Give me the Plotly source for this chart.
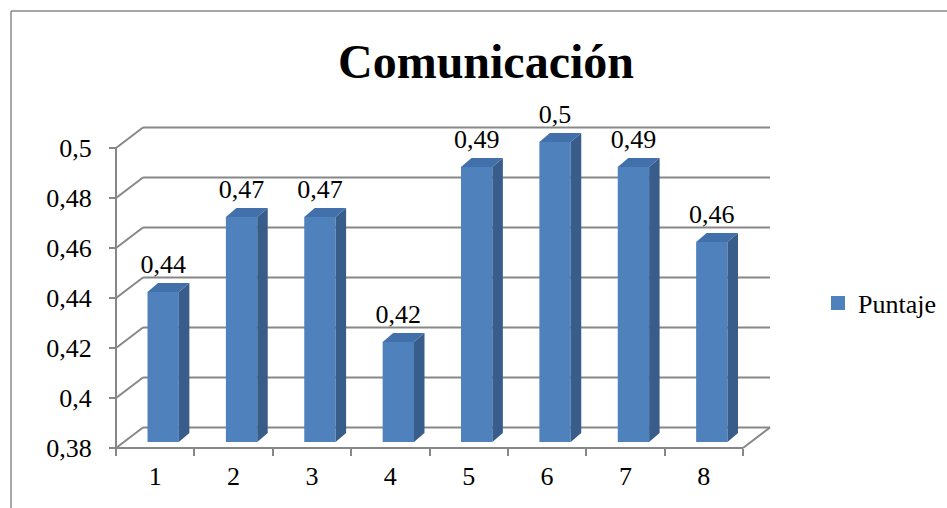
import plotly.graph_objects as go

# ---------------- data ----------------
categories = [1, 2, 3, 4, 5, 6, 7, 8]
category_labels = ["1", "2", "3", "4", "5", "6", "7", "8"]
puntaje = [0.44, 0.47, 0.47, 0.42, 0.49, 0.50, 0.49, 0.46]
y_ticks = [0.38, 0.40, 0.42, 0.44, 0.46, 0.48, 0.50]
y_tick_labels = ["0,38", "0,4", "0,42", "0,44", "0,46", "0,48", "0,5"]
series_name = "Puntaje"
title_text = "Comunicación"

# ---------------- geometry (pixel scales of the pseudo-3D look) ----------------
W, H = 947, 508
PX = 627 / 8          # px per category unit
PY = 300 / 0.12       # px per value unit
Y0 = 0.38
L, R, T, B = 113, 772, 95, 451      # plot area in px
FRONT_X, FRONT_Y = 116, 448         # pixel of (0.5, 0.38)

xr = [0.5 - (FRONT_X - L) / PX, 0.5 + (R - FRONT_X) / PX]
yr = [Y0 - (B - FRONT_Y) / PY, Y0 + (FRONT_Y - T) / PY]

BX, BY = 27 / PX, 20.5 / PY     # back wall offset
FX, FY = 8 / PX, 6 / PY         # bar plane offset
DX, DY = 10.5 / PX, 9 / PY      # bar depth
HW = 0.2                        # half bar width

FONT = "Liberation Serif"
GRID = "#878787"
FRONT_C = "#4F81BD"
SIDE_C = "#385D8A"
TOP_C = "#4270AA"

fig = go.Figure()

# main bars (front faces)
fig.add_trace(go.Bar(
    x=[c + FX for c in categories],
    y=[v - Y0 for v in puntaje],
    base=Y0 + FY,
    width=2 * HW,
    marker=dict(color=FRONT_C, line=dict(width=0)),
    name=series_name,
    showlegend=False,
    hoverinfo="skip",
))

# legend entry (square swatch)
fig.add_trace(go.Scatter(
    x=[None], y=[None], mode="markers", name=series_name,
    marker=dict(symbol="square", size=14, color=FRONT_C),
    showlegend=True, hoverinfo="skip"))

# side & top faces
for c, v in zip(categories, puntaje):
    xl = c + FX - HW
    xrt = c + FX + HW
    yb = Y0 + FY
    yt = v + FY
    fig.add_trace(go.Scatter(
        x=[xrt, xrt, xrt + DX, xrt + DX, xrt],
        y=[yb, yt, yt + DY, yb + DY, yb],
        fill="toself", fillcolor=SIDE_C, mode="lines",
        line=dict(width=0, color=SIDE_C), showlegend=False, hoverinfo="skip"))
    fig.add_trace(go.Scatter(
        x=[xl, xrt, xrt + DX, xl + DX, xl],
        y=[yt, yt, yt + DY, yt + DY, yt],
        fill="toself", fillcolor=TOP_C, mode="lines",
        line=dict(width=0, color=TOP_C), showlegend=False, hoverinfo="skip"))

# data labels
fig.add_trace(go.Scatter(
    x=[c + FX for c in categories],
    y=[v + FY + 26 / PY for v in puntaje],
    text=[str(v).replace(".", ",") for v in puntaje],
    mode="text", textposition="middle center",
    textfont=dict(family=FONT, size=26, color="black"),
    showlegend=False, hoverinfo="skip", cliponaxis=False))

# invisible trace for the boundary-tick axis
fig.add_trace(go.Scatter(x=[1], y=[0.4], xaxis="x2", yaxis="y", mode="markers",
                         marker=dict(opacity=0), showlegend=False, hoverinfo="skip"))

shapes = []
def seg(x0, y0, x1, y1):
    shapes.append(dict(type="line", xref="x", yref="y", x0=x0, y0=y0, x1=x1, y1=y1,
                       line=dict(color=GRID, width=2), layer="below"))

xmax = categories[-1] + 0.5
# front vertical axis and floor
seg(0.5, Y0, 0.5, y_ticks[-1])
seg(0.5, Y0, xmax, Y0)
seg(xmax, Y0, xmax + BX, Y0 + BY)
for t in y_ticks:
    seg(0.5, t, 0.5 + BX, t + BY)
    seg(0.5 + BX, t + BY, xmax + BX, t + BY)

# outer chart border (left and top)
px = lambda p: (p - L) / (R - L)
py = lambda p: (B - p) / (B - T)
for x0, y0, x1, y1 in [(11, 11, 11, 530), (11, 11, 970, 11)]:
    shapes.append(dict(type="line", xref="paper", yref="paper",
                       x0=px(x0), y0=py(y0), x1=px(x1), y1=py(y1),
                       line=dict(color="#8a8a8a", width=1.5)))

fig.update_layout(
    width=W, height=H,
    margin=dict(l=L, r=W - R, t=T, b=H - B, pad=0),
    paper_bgcolor="white", plot_bgcolor="white",
    font=dict(family=FONT, size=26, color="black"),
    title=dict(text="<b>" + title_text + "</b>", x=486 / W, xref="container", xanchor="center",
               y=1 - 61 / H, yref="container", yanchor="middle",
               font=dict(family=FONT, size=48, color="black")),
    showlegend=True,
    legend=dict(x=818 / W, xref="container", xanchor="left",
                y=1 - 303 / H, yref="container", yanchor="middle",
                font=dict(family=FONT, size=26, color="black"),
                bgcolor="rgba(0,0,0,0)", itemclick=False, itemsizing="trace"),
    xaxis=dict(range=xr, tickvals=categories, ticktext=category_labels, ticks="",
               showgrid=False, zeroline=False, showline=False,
               anchor="free", position=(B - FRONT_Y) / (B - T),
               tickfont=dict(family=FONT, size=26, color="black"), ticklabelstandoff=10),
    xaxis2=dict(range=xr, overlaying="x", tickvals=[c - 0.5 for c in categories] + [xmax],
                ticks="outside", ticklen=7, tickwidth=2, tickcolor=GRID,
                showticklabels=False, showgrid=False, zeroline=False, showline=False,
                anchor="free", position=(B - FRONT_Y) / (B - T), side="bottom"),
    yaxis=dict(range=yr, tickvals=y_ticks, ticktext=y_tick_labels,
               ticks="outside", ticklen=7, tickwidth=2, tickcolor=GRID,
               showgrid=False, zeroline=False, showline=False,
               anchor="free", position=(FRONT_X - L) / (R - L),
               tickfont=dict(family=FONT, size=26, color="black"), ticklabelstandoff=12),
    shapes=shapes,
)

fig.write_html("out.html")
